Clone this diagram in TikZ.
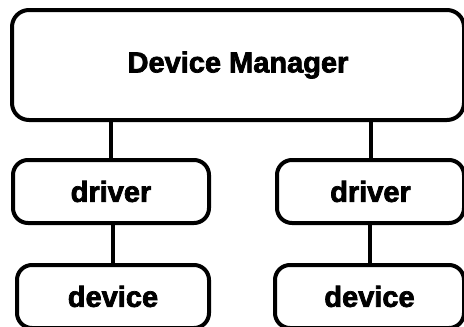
\documentclass[tikz,border=0pt]{standalone}
\usepackage{fontspec}
\setmainfont{Liberation Sans}[BoldFeatures={FakeBold=2.5}]
\begin{document}
\begin{tikzpicture}[x=1pt,y=-1pt,
  box/.style={draw=black, line width=4pt, rounded corners=17pt,
    inner sep=0pt, font=\bfseries\fontsize{29}{34}\selectfont},
  link/.style={draw=black, line width=4pt}]
  \useasboundingbox (0,0) rectangle (464,327);

  % manager and the two driver/device stacks
  \node[box, minimum width=452pt, minimum height=110pt] (mgr) at (238,65) {Device Manager};
  \node[box, minimum width=196pt, minimum height=63pt, rounded corners=15pt] (drvL) at (111,191.5) {driver};
  \node[box, minimum width=187pt, minimum height=63pt, rounded corners=15pt] (drvR) at (370.5,191.5) {driver};
  \node[box, minimum width=192pt, minimum height=63pt, rounded corners=15pt] (devL) at (113,296.5) {device};
  \node[box, minimum width=189pt, minimum height=63pt, rounded corners=15pt] (devR) at (369.5,296.5) {device};

  % connections
  \draw[link] (drvL.north) -- (drvL.north |- mgr.south);
  \draw[link] (drvR.north) -- (drvR.north |- mgr.south);
  \draw[link] (devL.north) -- (devL.north |- drvL.south);
  \draw[link] (devR.north) -- (devR.north |- drvR.south);
\end{tikzpicture}
\end{document}
